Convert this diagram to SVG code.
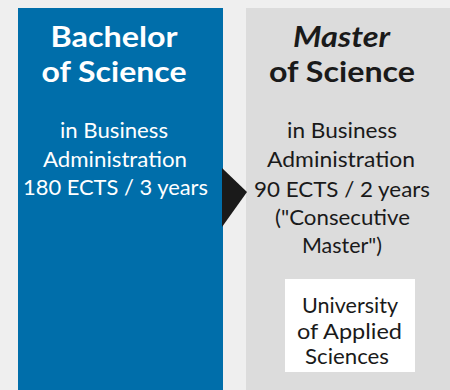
<svg xmlns="http://www.w3.org/2000/svg" width="450" height="390" viewBox="0 0 450 390">
  <style>
    text { font-family: Lato, "Open Sans", "Liberation Sans", sans-serif; text-anchor: middle; }
    .head { font-size: 28px; font-weight: 700; }
    .body { font-size: 20.5px; font-weight: 400; }
    .small { font-size: 21.5px; font-weight: 400; }
    .light { fill: #ffffff; }
    .dark { fill: #1a1a1a; }
  </style>
  <!-- backdrop -->
  <rect x="0" y="0" width="450" height="390" fill="#efefef"/>

  <!-- bachelor column -->
  <g id="bachelor">
    <rect x="18" y="8" width="205" height="382" fill="#006eaa"/>
    <text class="head light" x="114" y="47" textLength="127" lengthAdjust="spacingAndGlyphs">Bachelor</text>
    <text class="head light" x="114" y="82" textLength="145" lengthAdjust="spacingAndGlyphs">of Science</text>
    <text class="body light" x="114" y="138" textLength="108" lengthAdjust="spacingAndGlyphs">in Business</text>
    <text class="body light" x="115" y="167" textLength="144" lengthAdjust="spacingAndGlyphs">Administration</text>
    <text class="body light" x="115.5" y="195" textLength="185" lengthAdjust="spacingAndGlyphs">180 ECTS / 3 years</text>
  </g>

  <!-- master column -->
  <g id="master">
    <rect x="246" y="8" width="204" height="382" fill="#dcdcdc"/>
    <text class="head dark" x="341.5" y="47" font-style="italic" textLength="97" lengthAdjust="spacingAndGlyphs">Master</text>
    <text class="head dark" x="342" y="82" textLength="146" lengthAdjust="spacingAndGlyphs">of Science</text>
    <text class="body dark" x="342" y="138" textLength="110" lengthAdjust="spacingAndGlyphs">in Business</text>
    <text class="body dark" x="341" y="167" textLength="148" lengthAdjust="spacingAndGlyphs">Administration</text>
    <text class="body dark" x="342" y="197" textLength="176" lengthAdjust="spacingAndGlyphs">90 ECTS / 2 years</text>
    <text class="body dark" x="342.5" y="225" textLength="135" lengthAdjust="spacingAndGlyphs">("Consecutive</text>
    <text class="body dark" x="342" y="253" textLength="80" lengthAdjust="spacingAndGlyphs">Master")</text>
  </g>

  <!-- institution label -->
  <g id="university">
    <rect x="285" y="279" width="130" height="93" fill="#ffffff"/>
    <text class="small dark" x="350" y="313" textLength="96" lengthAdjust="spacingAndGlyphs">University</text>
    <text class="small dark" x="349.5" y="339" textLength="105" lengthAdjust="spacingAndGlyphs">of Applied</text>
    <text class="small dark" x="347" y="364" textLength="84" lengthAdjust="spacingAndGlyphs">Sciences</text>
  </g>

  <!-- progression arrow -->
  <g id="connectors">
    <polygon points="222,168 247,192 222,227" fill="#1a1a1a"/>
  </g>
</svg>
